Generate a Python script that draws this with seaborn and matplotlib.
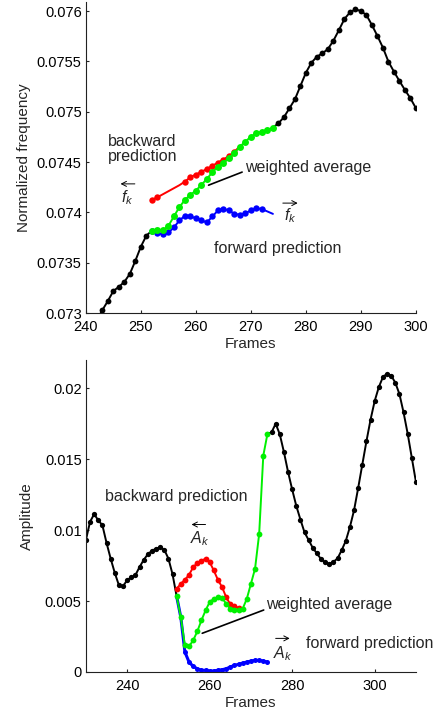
# Frequency and amplitude tracks: backward / forward prediction and weighted average
import numpy as np
import matplotlib
matplotlib.use("Agg")
import matplotlib.pyplot as plt
import seaborn as sns

sns.set_style("ticks")
plt.rcParams['font.family'] = ['Liberation Sans', 'DejaVu Sans']
plt.rcParams['mathtext.fontset'] = 'custom'
plt.rcParams['mathtext.rm'] = 'Liberation Sans'
plt.rcParams['mathtext.it'] = 'Liberation Sans:italic'

# -- data: normalized frequency ------------------------------------------------
freq_left_frames = np.arange(242, 252)
freq_left = [0.07293, 0.07303, 0.07312, 0.07322, 0.07326, 0.07331, 0.07339,
             0.07352, 0.07366, 0.07377]
freq_right_frames = np.arange(275, 301)
freq_right = [0.074885, 0.074945, 0.075034, 0.075123, 0.075256, 0.075388,
              0.075487, 0.075547, 0.07558, 0.075623, 0.075706, 0.075811,
              0.075921, 0.075987, 0.076017, 0.076, 0.07596, 0.075861,
              0.075752, 0.075636, 0.075497, 0.075398, 0.075305, 0.075216,
              0.075133, 0.075034]
pred_frames = np.arange(252, 275)
freq_avg = [0.073817, 0.073827, 0.07382, 0.073866, 0.07396, 0.074052,
            0.074124, 0.074174, 0.074217, 0.074273, 0.074333, 0.074399,
            0.074455, 0.074495, 0.074538, 0.074588, 0.074654, 0.074703,
            0.074753, 0.074786, 0.074802, 0.074819, 0.074842]
freq_back_frames = np.arange(252, 269)
freq_back = [0.074124, 0.07415, 0.07418, 0.07421, 0.07424, 0.07427, 0.074306,
             0.074349, 0.074376, 0.074402, 0.074432, 0.074462, 0.074495,
             0.074525, 0.07456, 0.0746, 0.07466]
freq_fwd = [0.073817, 0.073794, 0.073784, 0.0738, 0.07385, 0.07392, 0.073966,
            0.073959, 0.073942, 0.07392, 0.0739, 0.073959, 0.074019, 0.074035,
            0.074019, 0.073985, 0.073976, 0.073992, 0.074019, 0.074042,
            0.074032, 0.074009, 0.073985]

# -- data: amplitude -----------------------------------------------------------
amp_left_frames = np.arange(230, 252)
amp_left = [0.0093, 0.01059, 0.01113, 0.0107, 0.01035, 0.00911, 0.008, 0.00699,
            0.00612, 0.00605, 0.00648, 0.00667, 0.00683, 0.0074, 0.0079,
            0.0083, 0.00855, 0.0087, 0.0088, 0.00862, 0.008, 0.0069]
amp_right_frames = np.arange(275, 311)
amp_right = [0.0169, 0.01751, 0.01676, 0.01551, 0.01411, 0.01287, 0.01171,
             0.01075, 0.00984, 0.0093, 0.00875, 0.00836, 0.00796, 0.00773,
             0.00761, 0.00777, 0.00801, 0.00859, 0.00925, 0.01023, 0.01141,
             0.01298, 0.01463, 0.01627, 0.0178, 0.01911, 0.02009, 0.0208,
             0.02104, 0.0209, 0.0204, 0.0196, 0.0183, 0.0168, 0.0151, 0.0134]
amp_avg = [0.00533, 0.00387, 0.00188, 0.00181, 0.00223, 0.00286, 0.00364,
           0.00434, 0.00493, 0.00516, 0.00528, 0.00523, 0.00481, 0.00446,
           0.00439, 0.00439, 0.00446, 0.00516, 0.00622, 0.00728, 0.00974,
           0.01526, 0.01678]
amp_back_frames = np.arange(252, 269)
amp_back = [0.00587, 0.00622, 0.0065, 0.00685, 0.00739, 0.00768, 0.00786,
            0.00798, 0.00775, 0.00716, 0.0065, 0.00599, 0.00528, 0.00477,
            0.00462, 0.00453, 0.00446]
amp_fwd = [0.00533, 0.00387, 0.00141, 0.0007, 0.0004, 0.00023, 0.00012,
           0.00012, 0.00007, 0.00007, 0.00012, 0.00016, 0.00023, 0.00035,
           0.00047, 0.00054, 0.00063, 0.0007, 0.00077, 0.00082, 0.00082,
           0.00077, 0.0007]

fig = plt.figure(figsize=(4.36, 7.09), dpi=100)
ax1 = fig.add_axes([0.197, 0.5585, 0.757, 0.4387])
ax2 = fig.add_axes([0.197, 0.0522, 0.757, 0.44])

GREEN = '#00f000'
FS = 11.5


def track(ax, x, y, color, ms, lw=1.4, z=2, **kw):
    sns.lineplot(x=x, y=y, ax=ax, color=color, lw=lw, marker='o', ms=ms,
                 mec=color, mew=0, zorder=z, sort=False, estimator=None, **kw)


def vec_label(ax, tip, tail, text, pos):
    # thin arrow over a symbol, as in the original figure
    ax.annotate('', xy=tip, xytext=tail,
                arrowprops=dict(arrowstyle='->,head_length=0.35,head_width=0.18',
                                lw=0.7, color='black', shrinkA=0, shrinkB=0))
    ax.text(pos[0], pos[1], text, fontsize=FS, ha='center', va='center')


# -- top panel -----------------------------------------------------------------
track(ax1, np.append(freq_left_frames, pred_frames[0]),
      np.append(freq_left, freq_avg[0]), 'black', 4.2,
      markevery=list(range(len(freq_left))))
track(ax1, np.insert(freq_right_frames, 0, pred_frames[-1]),
      np.insert(freq_right, 0, freq_avg[-1]), 'black', 4.2,
      markevery=list(range(1, len(freq_right) + 1)))
track(ax1, freq_back_frames, freq_back, 'red', 4.6,
      markevery=[0, 1] + list(range(6, len(freq_back) - 1)))
track(ax1, pred_frames, freq_fwd, 'blue', 4.6,
      markevery=list(range(len(freq_fwd) - 2)))
track(ax1, pred_frames, freq_avg, GREEN, 5.0, z=3)

ax1.plot([262.3, 268.4], [0.07427, 0.0744], color='black', lw=1.2)
ax1.text(244.0, 0.07463, 'backward\nprediction', fontsize=FS, va='center',
         linespacing=1.05)
ax1.text(269.0, 0.074449, 'weighted average', fontsize=FS, va='center')
ax1.text(263.3, 0.073644, 'forward prediction', fontsize=FS, va='center')
vec_label(ax1, (246.3, 0.074283), (248.9, 0.074283), r'$f_k$',
          (247.5, 0.074151))
vec_label(ax1, (278.5, 0.074092), (275.8, 0.074092), r'$f_k$',
          (277.1, 0.073972))

ax1.set_xlim(240, 300)
ax1.set_ylim(0.073, 0.07609)
ax1.set_xticks(np.arange(240, 301, 10))
ax1.set_yticks(np.arange(0.073, 0.07601, 0.0005))
ax1.set_yticklabels(['0.073', '0.0735', '0.074', '0.0745', '0.075',
                     '0.0755', '0.076'])
ax1.set_xlabel('Frames', fontsize=11, labelpad=2)
ax1.set_ylabel('Normalized frequency', fontsize=11, labelpad=4)

# -- bottom panel --------------------------------------------------------------
track(ax2, np.append(amp_left_frames, pred_frames[0]),
      np.append(amp_left, amp_avg[0]), 'black', 3.8,
      markevery=list(range(len(amp_left))))
track(ax2, np.insert(amp_right_frames, 0, pred_frames[-1]),
      np.insert(amp_right, 0, amp_avg[-1]), 'black', 3.8,
      markevery=list(range(1, len(amp_right) + 1)))
track(ax2, amp_back_frames, amp_back, 'red', 4.2,
      markevery=list(range(len(amp_back) - 1)))
track(ax2, pred_frames, amp_fwd, 'blue', 3.6, lw=2.2)
track(ax2, pred_frames, amp_avg, GREEN, 4.2, z=3)

ax2.plot([258.2, 273.1], [0.00273, 0.00437], color='black', lw=1.2)
ax2.text(234.6, 0.01239, 'backward prediction', fontsize=FS, va='center')
ax2.text(273.6, 0.00479, 'weighted average', fontsize=FS, va='center')
ax2.text(283.3, 0.00204, 'forward prediction', fontsize=FS, va='center')
vec_label(ax2, (255.6, 0.0104), (259.0, 0.0104), r'$A_k$', (257.6, 0.00942))
vec_label(ax2, (279.4, 0.00237), (276.0, 0.00237), r'$A_k$', (277.7, 0.00132))

ax2.set_xlim(230, 310)
ax2.set_ylim(0, 0.022)
ax2.set_xticks([240, 260, 280, 300])
ax2.set_yticks([0, 0.005, 0.01, 0.015, 0.02])
ax2.set_yticklabels(['0', '0.005', '0.01', '0.015', '0.02'])
ax2.set_xlabel('Frames', fontsize=11, labelpad=2)
ax2.set_ylabel('Amplitude', fontsize=11, labelpad=8)

for ax in (ax1, ax2):
    sns.despine(ax=ax)
    for side in ('left', 'bottom'):
        ax.spines[side].set_linewidth(0.8)
        ax.spines[side].set_color('#222222')
    ax.tick_params(direction='in', length=2.5, width=0.8, labelsize=10.5,
                   pad=3, colors='#222222', labelcolor='black')
    ax.tick_params(axis='x', pad=5)

fig.savefig('out.png', dpi=100)
